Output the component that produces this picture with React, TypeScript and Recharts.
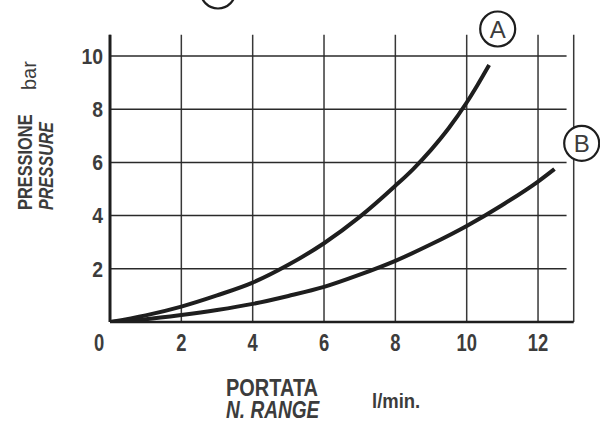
import { LineChart, Line, XAxis, YAxis, CartesianGrid, ReferenceLine } from 'recharts';

const flowA = [0, 1, 2, 3, 4, 5, 6, 7, 8, 8.5, 9, 9.5, 10, 10.3, 10.63];
const pressA = [0, 0.25, 0.58, 1.0, 1.48, 2.15, 2.96, 3.95, 5.12, 5.75, 6.47, 7.29, 8.25, 8.9, 9.66];
const flowB = [0, 1, 2, 3, 4, 5, 6, 7, 8, 9, 10, 11, 12, 12.46];
const pressB = [0, 0.1, 0.26, 0.45, 0.68, 0.98, 1.32, 1.78, 2.3, 2.92, 3.61, 4.4, 5.28, 5.75];
const xTicks = [0, 2, 4, 6, 8, 10, 12];
const yTicks = [2, 4, 6, 8, 10];

const FONT = "'Liberation Sans', Arial, sans-serif";
const TEXT = '#3c3c3c';
const INK = '#1e1e1e';

const dataA = flowA.map((x, i) => ({ x, p: pressA[i] }));
const dataB = flowB.map((x, i) => ({ x, p: pressB[i] }));

// Liberation Sans squeezed sideways to stand in for a narrow bold face
function Narrow({ x, y, sx, rotate = 0, anchor = 'start', size, bold = true, italic = false, dy, children }: any) {
  return (
    <text
      transform={`translate(${x},${y}) rotate(${rotate}) scale(${sx},1)`}
      textAnchor={anchor}
      dy={dy}
      fill={TEXT}
      fontFamily={FONT}
      fontSize={size}
      fontWeight={bold ? 'bold' : 'normal'}
      fontStyle={italic ? 'italic' : 'normal'}
    >
      {children}
    </text>
  );
}

function XTick(props: any) {
  const { x, y, payload } = props;
  // the zero sits a little left of the origin in the original
  const dx = payload.value === 0 ? -11 : 0;
  return (
    <Narrow x={x + dx} y={y + 11} dy="0.71em" anchor="middle" size={23} sx={0.8}>
      {payload.value}
    </Narrow>
  );
}

function YTick(props: any) {
  const { x, y, payload } = props;
  return (
    <Narrow x={x - 5} y={y} dy="0.355em" anchor="end" size={22} sx={0.88}>
      {payload.value}
    </Narrow>
  );
}

function Circled({ cx, cy, label }: { cx: number; cy: number; label?: string }) {
  return (
    <g>
      <circle cx={cx} cy={cy} r={17.5} fill="#fff" stroke={INK} strokeWidth={2.2} />
      {label && (
        <text x={cx} y={cy + 8.5} textAnchor="middle" fill={TEXT} fontFamily={FONT} fontSize={24}>
          {label}
        </text>
      )}
    </g>
  );
}

export default function App() {
  return (
    <div style={{ position: 'absolute', left: 0, top: 0, width: 600, height: 421, background: '#fff' }}>
      <LineChart width={600} height={421} margin={{ top: 34.7, right: 26.3, bottom: 0, left: 0 }}>
        <CartesianGrid horizontal={false} stroke="#383838" strokeWidth={1.5} />
        <XAxis dataKey="x" type="number" domain={[0, 13]} ticks={xTicks} height={99}
          tickSize={0} tick={<XTick />} axisLine={{ stroke: INK, strokeWidth: 2.5 }} allowDataOverflow />
        <YAxis type="number" domain={[0, 10.8]} ticks={yTicks} width={110}
          tickSize={0} tick={<YTick />} axisLine={{ stroke: INK, strokeWidth: 3 }} allowDataOverflow />
        {yTicks.map((v) => (
          <ReferenceLine key={v} segment={[{ x: 0, y: v }, { x: 12.8, y: v }]} stroke="#2a2a2a" strokeWidth={1.5} />
        ))}
        <Line data={dataA} dataKey="p" type="monotone" stroke={INK} strokeWidth={4} dot={false} isAnimationActive={false} />
        <Line data={dataB} dataKey="p" type="monotone" stroke={INK} strokeWidth={4} dot={false} isAnimationActive={false} />
      </LineChart>
      <svg width={600} height={421} style={{ position: 'absolute', left: 0, top: 0, pointerEvents: 'none' }}>
        <Circled cx={218} cy={-9} />
        <Circled cx={497.7} cy={29} label="A" />
        <Circled cx={581.7} cy={143.3} label="B" />
        <Narrow x={226} y={395.5} size={23.5} sx={0.85}>PORTATA</Narrow>
        <Narrow x={226} y={418} size={23} sx={0.83} italic>N. RANGE</Narrow>
        <Narrow x={372} y={407.5} size={20.5} sx={0.9}>l/min.</Narrow>
        <Narrow x={31.5} y={210} rotate={-90} size={20.5} sx={0.8}>PRESSIONE</Narrow>
        <Narrow x={52.5} y={210} rotate={-90} size={20.5} sx={0.78} italic>PRESSURE</Narrow>
        <Narrow x={36} y={90} rotate={-90} size={20} sx={1} bold={false}>bar</Narrow>
      </svg>
    </div>
  );
}
